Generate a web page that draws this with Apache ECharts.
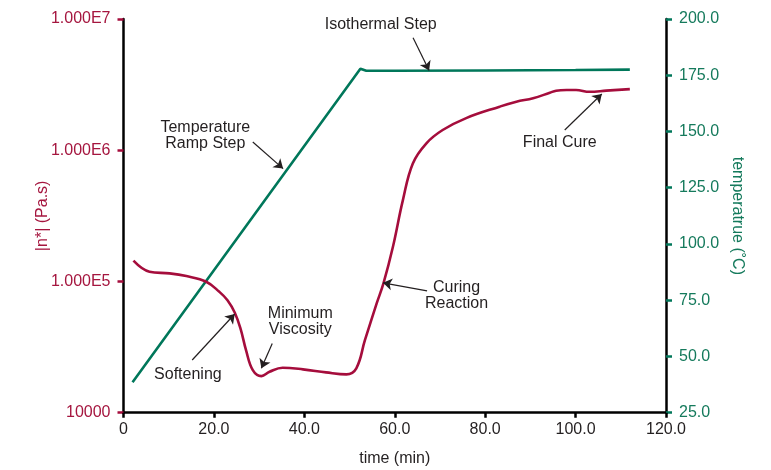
<!DOCTYPE html>
<html>
<head>
<meta charset="utf-8">
<script src="https://cdn.jsdelivr.net/npm/echarts@6/dist/echarts.min.js"></script>
<style>
  html, body { margin: 0; padding: 0; background: #fff; }
  #chart { width: 771px; height: 470px; }
</style>
</head>
<body>
<div id="chart"></div>
<script>
// time (min) and complex viscosity |n*| (Pa.s)
const viscTime = [2.2, 5.75, 10.2, 13.9, 18.3, 21.2, 23.0, 24.6, 25.9, 27.1, 28.6, 30.5, 32.3, 35.2, 39.7, 44.8, 49.3, 51.5, 53.4, 56.0, 57.5, 59.6, 61.8, 64.0, 67.0, 70.6, 75.8, 83.2, 86.9, 90.6, 94.3, 95.7, 98.0, 100.1, 103.1, 106.8, 112.0];
const viscValues = [143900, 118600, 115300, 109900, 99500, 83400, 72000, 58000, 43500, 30000, 21100, 19000, 20500, 22000, 21400, 20300, 19600, 21800, 35700, 68000, 96600, 184000, 417000, 794000, 1130000, 1426000, 1758000, 2148000, 2344000, 2489000, 2742000, 2844000, 2877000, 2877000, 2787000, 2844000, 2924000];

// time (min) and oven temperature (°C)
const tempTime = [2.0, 52.4, 53.7, 60.0, 80.0, 100.0, 112.0];
const tempValues = [38.5, 177.9, 177.0, 177.0, 177.1, 177.3, 177.5];

// axis ticks
const timeTicks = [0, 20, 40, 60, 80, 100, 120];
const viscTicks = [10000, 100000, 1000000, 10000000];
const tempTicks = [25, 50, 75, 100, 125, 150, 175, 200];

// annotation texts with their anchor [time, value]
const viscNotes = [
  { name: 'Softening', coord: [14.24, 19400] },
  { name: 'Minimum\nViscosity', coord: [39.1, 49300] },
  { name: 'Curing\nReaction', coord: [73.66, 77600] },
  { name: 'Final Cure', coord: [96.5, 1140000] }
];
const tempNotes = [
  { name: 'Isothermal Step', coord: [56.9, 197.6] },
  { name: 'Temperature\nRamp Step', coord: [18.1, 148.1] }
];
// arrows: [from, to]
const viscArrows = [
  [[15.2, 25200], [24.6, 56500]],
  [[32.9, 33700], [30.5, 21800]],
  [[67.15, 84900], [57.4, 97700]],
  [[97.6, 1426000], [105.8, 2680000]]
];
const tempArrows = [
  [[64.05, 191.7], [67.6, 177.1]],
  [[28.6, 145.3], [35.3, 133.5]]
];

const RED = '#a50d3c';
const GREEN = '#00775a';
const RED_TXT = '#a5163f';
const GREEN_TXT = '#157a5c';
const INK = '#231f20';
const FONT = '"Liberation Sans", Arial, Helvetica, sans-serif';

function fmtVisc(v) {
  if (v === 10000) return '10000';
  const e = Math.round(Math.log10(v));
  return (v / Math.pow(10, e)).toFixed(3) + 'E' + e;
}

function arrowLines(list) {
  return {
    silent: true,
    symbol: ['none', 'arrow'],
    symbolSize: 9,
    label: { show: false },
    lineStyle: { color: INK, width: 1.2, type: 'solid' },
    emphasis: { disabled: true },
    animation: false,
    data: list.map(a => [{ coord: a[0] }, { coord: a[1] }])
  };
}

function notePoints(list) {
  return {
    silent: true,
    symbol: 'circle',
    symbolSize: 0,
    label: {
      show: true,
      position: 'inside',
      formatter: '{b}',
      color: INK,
      fontFamily: FONT,
      fontSize: 16,
      lineHeight: 16,
      align: 'center',
      verticalAlign: 'middle'
    },
    animation: false,
    data: list.map(n => ({ name: n.name, coord: n.coord }))
  };
}

const chart = echarts.init(document.getElementById('chart'), null, { renderer: 'canvas' });

chart.setOption({
  animation: false,
  backgroundColor: '#ffffff',
  grid: {
    left: 123.5, right: 105, top: 19, bottom: 57.3,
    containLabel: false,
    outerBoundsMode: 'none'
  },
  xAxis: {
    type: 'value',
    min: timeTicks[0],
    max: timeTicks[timeTicks.length - 1],
    interval: timeTicks[1] - timeTicks[0],
    name: 'time (min)',
    nameLocation: 'middle',
    nameGap: 38,
    nameMoveOverlap: false,
    nameTextStyle: { color: INK, fontFamily: FONT, fontSize: 16 },
    axisLine: { onZero: false, lineStyle: { color: '#000', width: 2.5 } },
    axisTick: { show: true, length: 5, lineStyle: { color: '#000', width: 2.5 } },
    axisLabel: {
      color: INK, fontFamily: FONT, fontSize: 16, margin: 9,
      formatter: v => (v === 0 ? '0' : v.toFixed(1))
    },
    splitLine: { show: false }
  },
  yAxis: [
    {
      type: 'log',
      logBase: 10,
      min: viscTicks[0],
      max: viscTicks[viscTicks.length - 1],
      position: 'left',
      name: '|n*| (Pa.s)',
      nameLocation: 'middle',
      nameGap: 73,
      nameMoveOverlap: false,
      nameTextStyle: { color: RED_TXT, fontFamily: FONT, fontSize: 16 },
      axisLine: { show: true, onZero: false, lineStyle: { color: '#000', width: 2.5 } },
      axisTick: { show: true, length: 6, lineStyle: { color: RED, width: 2.5 } },
      axisLabel: {
        color: RED_TXT, fontFamily: FONT, fontSize: 16, margin: 13,
        formatter: fmtVisc
      },
      splitLine: { show: false },
      minorTick: { show: false }
    },
    {
      type: 'value',
      min: tempTicks[0],
      max: tempTicks[tempTicks.length - 1],
      interval: tempTicks[1] - tempTicks[0],
      position: 'right',
      name: 'temperatrue (˚C)',
      nameLocation: 'middle',
      nameRotate: -90,
      nameGap: 63,
      nameMoveOverlap: false,
      nameTextStyle: { color: GREEN_TXT, fontFamily: FONT, fontSize: 16 },
      axisLine: { show: true, onZero: false, lineStyle: { color: '#000', width: 2.5 } },
      axisTick: { show: true, length: 6, lineStyle: { color: GREEN, width: 2.5 } },
      axisLabel: {
        color: GREEN_TXT, fontFamily: FONT, fontSize: 16, margin: 13,
        formatter: v => v.toFixed(1)
      },
      splitLine: { show: false }
    }
  ],
  series: [
    {
      name: 'viscosity',
      type: 'line',
      yAxisIndex: 0,
      data: viscTime.map((t, i) => [t, viscValues[i]]),
      smooth: 0.4,
      symbol: 'none',
      lineStyle: { color: RED, width: 2.6 },
      z: 3,
      markLine: arrowLines(viscArrows),
      markPoint: notePoints(viscNotes)
    },
    {
      name: 'temperature',
      type: 'line',
      yAxisIndex: 1,
      data: tempTime.map((t, i) => [t, tempValues[i]]),
      smooth: false,
      symbol: 'none',
      lineStyle: { color: GREEN, width: 2.6 },
      z: 2,
      markLine: arrowLines(tempArrows),
      markPoint: notePoints(tempNotes)
    }
  ]
});
</script>
</body>
</html>
